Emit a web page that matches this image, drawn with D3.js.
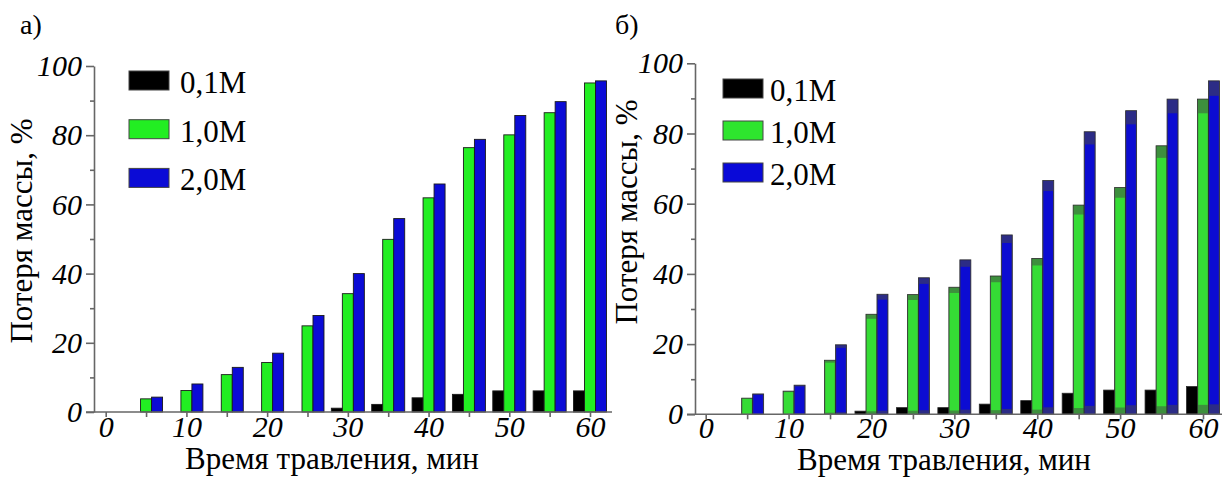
<!DOCTYPE html>
<html>
<head>
<meta charset="utf-8">
<script src="https://cdn.jsdelivr.net/npm/d3@7"></script>
<style>
  body { margin: 0; background: #fff; }
  svg text { font-family: "Liberation Serif", "Times New Roman", Times, "DejaVu Serif", serif; fill: #000; }
</style>
</head>
<body>
<svg id="chart" width="1227" height="477"></svg>
<script>
// Data
var times = [5, 10, 15, 20, 25, 30, 35, 40, 45, 50, 55, 60];
var seriesNames = ["0,1M", "1,0M", "2,0M"];
var xTicks = [0, 10, 20, 30, 40, 50, 60];
var yTicks = [0, 20, 40, 60, 80, 100];

// panel a)
var leftBlack = [0, 0, 0, 0, 0, 1.1, 2.2, 4.1, 5.1, 6.1, 6.1, 6.1];
var leftGreen = [3.8, 6.2, 10.8, 14.3, 24.9, 34.2, 49.9, 61.9, 76.4, 80.1, 86.5, 95.1];
var leftBlue  = [4.3, 8.1, 12.9, 17.0, 27.9, 40.0, 55.9, 65.9, 78.8, 85.7, 89.7, 95.7];

// panel б)
var rightBlack = [0, 0, 0, 0.9, 1.9, 1.9, 2.9, 3.9, 6.0, 6.9, 6.9, 7.9];
var rightGreen = [4.6, 6.6, 15.4, 28.5, 34.1, 36.2, 39.4, 44.4, 59.6, 64.6, 76.5, 89.8];
var rightBlue  = [5.8, 8.3, 19.8, 34.2, 38.9, 44.0, 51.1, 66.6, 80.5, 86.5, 89.8, 95.0];

var serif = "'Liberation Serif', 'Times New Roman', Times, 'DejaVu Serif', serif";
var svg = d3.select("#chart");

function drawPanel(p) {
  var x = d3.scaleLinear().domain([0, 60]).range(p.xRange);
  var y = d3.scaleLinear().domain([0, 100]).range(p.yRange);
  var sub = d3.scaleBand().domain(seriesNames).range([-16.5, 16.5]);
  var g = svg.append("g");

  // panel letter
  g.append("text")
      .attr("x", p.letter[0]).attr("y", p.letter[1])
      .style("font-size", "28px").style("font-family", serif)
      .text(p.letterText);

  // bars
  var rows = [];
  times.forEach(function (t, i) {
    p.values.forEach(function (vals, k) {
      if (vals[i] > 0) rows.push({ t: t, v: vals[i], s: seriesNames[k], k: k });
    });
  });

  var bars = g.append("g").selectAll("g")
    .data(rows)
    .enter().append("g");

  if (!p.shaded) {
    bars.append("rect")
        .attr("x", function (d) { return x(d.t) + sub(d.s); })
        .attr("width", sub.bandwidth())
        .attr("y", function (d) { return y(d.v); })
        .attr("height", function (d) { return y(0) - y(d.v); })
        .attr("fill", function (d) { return p.colors[d.k]; })
        .attr("stroke", "#1a1a1a")
        .attr("stroke-width", 0.9);
  } else {
    // outer bar in the dark tint
    bars.append("rect")
        .attr("x", function (d) { return x(d.t) + sub(d.s); })
        .attr("width", sub.bandwidth())
        .attr("y", function (d) { return y(d.v); })
        .attr("height", function (d) { return y(0) - y(d.v); })
        .attr("fill", function (d) { return p.darkColors[d.k]; })
        .attr("stroke", "#2a2a2a")
        .attr("stroke-width", 0.8);
    // brighter inner body
    bars.filter(function (d) { return d.k > 0; }).append("rect")
        .attr("x", function (d) { return x(d.t) + sub(d.s) + 0.8; })
        .attr("width", sub.bandwidth() - 1.6)
        .attr("y", function (d) { return y(d.v * 0.955); })
        .attr("height", function (d) { return y(d.v * 0.03) - y(d.v * 0.955); })
        .attr("fill", function (d) { return p.colors[d.k]; });
  }

  // y axis: minor then major ticks
  var yMinor = d3.axisLeft(y).tickValues([10, 30, 50, 70, 90]).tickSize(4).tickFormat("");
  var yMajor = d3.axisLeft(y).tickValues(yTicks).tickSize(8).tickSizeOuter(0).tickPadding(4);
  var ya = g.append("g").attr("transform", "translate(" + p.axisX + ",0)");
  var ym = ya.append("g").call(yMinor);
  ym.select(".domain").remove();
  ym.selectAll("text").remove();
  ya.append("g").call(yMajor);
  ya.selectAll("line, path").attr("stroke", "#666").attr("stroke-width", 1.6);
  ya.selectAll("text")
      .style("font-size", "30px").style("font-style", "italic")
      .style("font-family", serif)
      .attr("fill", "#000");

  // x axis: minor ticks every 5, labelled every 10
  var xa = g.append("g").attr("transform", "translate(0," + y(0) + ")");
  var xm = xa.append("g").call(d3.axisBottom(x).tickValues([5, 15, 25, 35, 45, 55]).tickSize(5).tickFormat(""));
  xm.select(".domain").remove();
  xm.selectAll("text").remove();
  var xM = xa.append("g").call(d3.axisBottom(x).tickValues(xTicks).tickSize(5).tickPadding(p.xPad));
  xM.select(".domain").remove();
  xa.append("line")
      .attr("x1", p.axisX - 8).attr("x2", p.xEnd)
      .attr("y1", 0).attr("y2", 0);
  xa.selectAll("line").attr("stroke", "#666").attr("stroke-width", 1.6);
  xa.selectAll("text")
      .style("font-size", "30px").style("font-style", "italic")
      .style("font-family", serif)
      .attr("fill", "#000");

  // axis titles
  g.append("text")
      .attr("transform", "translate(" + p.yTitle[0] + "," + p.yTitle[1] + ") rotate(-90)")
      .attr("text-anchor", "middle")
      .style("font-size", "31px").style("font-family", serif)
      .text("Потеря массы, %");
  g.append("text")
      .attr("x", p.xTitle[0]).attr("y", p.xTitle[1])
      .attr("text-anchor", "middle")
      .style("font-size", "31px").style("font-family", serif)
      .text("Время травления, мин");

  // legend
  var lg = g.append("g").selectAll("g")
    .data(seriesNames)
    .enter().append("g")
      .attr("transform", function (d, i) { return "translate(" + p.legend[0] + "," + (p.legend[1] + i * p.legend[2]) + ")"; });
  lg.append("rect")
      .attr("width", 40).attr("height", 19)
      .attr("fill", function (d, i) { return p.legendColors[i]; })
      .attr("stroke", "#444").attr("stroke-width", 1);
  lg.append("text")
      .attr("x", p.legend[3]).attr("y", 22)
      .style("font-size", "31px").style("font-family", serif)
      .text(function (d) { return d; });
}

drawPanel({
  letterText: "а)", letter: [20, 34],
  values: [leftBlack, leftGreen, leftBlue],
  xRange: [105.7, 590], yRange: [412, 66],
  axisX: 94, xEnd: 612, xPad: -1,
  shaded: false,
  colors: ["#000000", "#22ee22", "#0b0bd6"],
  legendColors: ["#000000", "#22ee22", "#0b0bd6"],
  yTitle: [32, 231], xTitle: [332, 469],
  legend: [129, 71, 48.7, 51]
});

drawPanel({
  letterText: "б)", letter: [615, 34],
  values: [rightBlack, rightGreen, rightBlue],
  xRange: [705.7, 1203], yRange: [414.3, 63.3],
  axisX: 695, xEnd: 1222, xPad: -3,
  shaded: true,
  colors: ["#000000", "#35dc35", "#0c0cd2"],
  darkColors: ["#000000", "#3d8f3d", "#2c2c86"],
  legendColors: ["#000000", "#2ee52e", "#0909d8"],
  yTitle: [637, 212], xTitle: [944, 470],
  legend: [723, 79, 42, 47]
});
</script>
</body>
</html>
